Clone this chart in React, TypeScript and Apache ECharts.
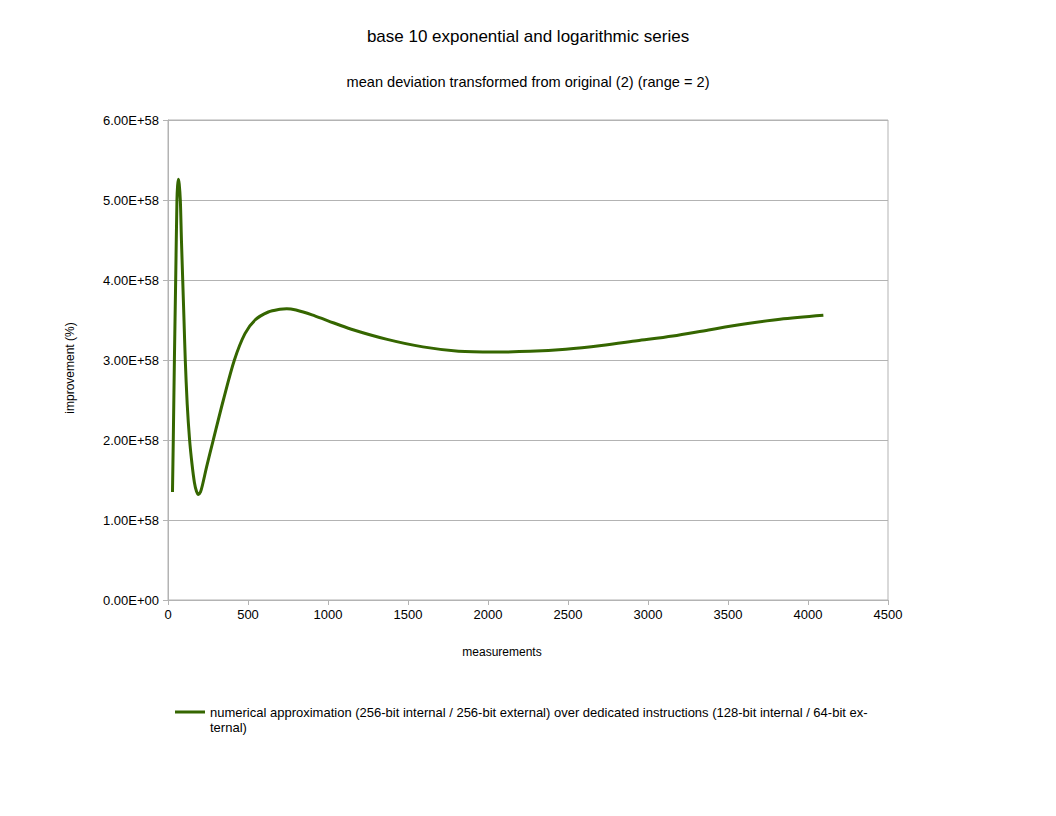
import React, { useEffect, useRef } from "react";
import * as echarts from "echarts";

const titleText = "base 10 exponential and logarithmic series";
const subtitleText = "mean deviation transformed from original (2) (range = 2)";
const xAxisName = "measurements";
const yAxisName = "improvement (%)";
const seriesName =
  "numerical approximation (256-bit internal / 256-bit external) over dedicated instructions (128-bit internal / 64-bit ex-\nternal)";

const measurements = [
  28, 33, 40, 48, 56, 60, 65, 70, 77, 84, 92, 100, 108, 120, 135, 150, 165, 178,
  190, 203, 217, 242, 283, 346, 415, 481, 544, 627, 700, 742, 800, 900, 1000,
  1146, 1370, 1593, 1816, 2039, 2263, 2486, 2709, 2932, 3155, 3379, 3602, 3825,
  4096,
];
const improvement = [
  1.35e58, 2.0e58, 3.0e58, 4.0e58, 5.0e58, 5.18e58, 5.26e58, 5.2e58, 5.0e58,
  4.5e58, 4.0e58, 3.5e58, 3.0e58, 2.45e58, 2.0e58, 1.7e58, 1.47e58, 1.36e58,
  1.32e58, 1.35e58, 1.45e58, 1.67e58, 2.0e58, 2.5e58, 3.0e58, 3.33e58, 3.5e58,
  3.6e58, 3.635e58, 3.642e58, 3.625e58, 3.565e58, 3.49e58, 3.385e58, 3.258e58,
  3.164e58, 3.11e58, 3.1e58, 3.108e58, 3.134e58, 3.18e58, 3.24e58, 3.3e58,
  3.376e58, 3.449e58, 3.51e58, 3.56e58,
];

const xMin = 0;
const xMax = 4500;
const xStep = 500;
const yMin = 0;
const yMax = 6e58;
const yStep = 1e58;

const FONT = "'Liberation Sans', Arial, sans-serif";
const GRAY = "#b3b3b3";
const LINE = "#356600";
const LEGEND_ICON = "path://M0,0H0.05V0.05H0Z M0,5.5H30V8.5H0Z M29.95,29.95H30V30H29.95Z";

export default function App() {
  const ref = useRef<HTMLDivElement>(null);
  useEffect(() => {
    if (!ref.current) return;
    const chart = echarts.init(ref.current, null, { renderer: "svg" });
    const data = measurements.map((m, i) => [m, improvement[i]]);
    chart.setOption({
      animation: false,
      backgroundColor: "#ffffff",
      textStyle: { fontFamily: FONT },
      title: [
        {
          text: titleText,
          left: "center",
          top: 23,
          textStyle: { fontFamily: FONT, fontSize: 17, fontWeight: "normal", color: "#000" },
        },
        {
          text: subtitleText,
          left: "center",
          top: 69,
          textStyle: { fontFamily: FONT, fontSize: 14.6, fontWeight: "normal", color: "#000" },
        },
      ],
      grid: {
        left: 168,
        top: 120,
        right: 168,
        bottom: 216,
        show: true,
        borderColor: GRAY,
        borderWidth: 1,
        containLabel: false,
      },
      xAxis: {
        type: "value",
        min: xMin,
        max: xMax,
        interval: xStep,
        name: xAxisName,
        nameLocation: "middle",
        nameGap: 46,
        nameTextStyle: { fontFamily: FONT, fontSize: 12, color: "#000", padding: [0, 52, 0, 0] },
        axisLine: { show: true, lineStyle: { color: GRAY } },
        axisTick: { show: true, length: 5, lineStyle: { color: GRAY } },
        axisLabel: {
          fontFamily: FONT,
          fontSize: 13,
          color: "#000",
          margin: 8,
          formatter: (v: number) => String(v),
        },
        splitLine: { show: false },
      },
      yAxis: {
        type: "value",
        min: yMin,
        max: yMax,
        interval: yStep,
        name: yAxisName,
        nameLocation: "middle",
        nameGap: 92,
        nameRotate: 90,
        nameTextStyle: { fontFamily: FONT, fontSize: 12, color: "#000", padding: [0, 16, 0, 0] },
        axisLine: { show: true, lineStyle: { color: GRAY } },
        axisTick: { show: true, length: 5, lineStyle: { color: GRAY } },
        axisLabel: {
          fontFamily: FONT,
          fontSize: 13,
          color: "#000",
          margin: 9,
          formatter: (v: number) => {
            if (v === 0) return "0.00E+00";
            return v.toExponential(2).toUpperCase();
          },
        },
        splitLine: { show: true, lineStyle: { color: GRAY, width: 1 } },
      },
      legend: {
        left: 170,
        top: 700,
        itemWidth: 30,
        itemHeight: 30,
        itemGap: 10,
        textStyle: { fontFamily: FONT, fontSize: 13, color: "#000", lineHeight: 15 },
        data: [{ name: seriesName, icon: LEGEND_ICON }],
      },
      series: [
        {
          type: "line",
          name: seriesName,
          data,
          smooth: 0.3,
          showSymbol: false,
          symbol: "none",
          lineStyle: { color: LINE, width: 3 },
          itemStyle: { color: LINE },
        },
      ],
    });
    return () => chart.dispose();
  }, []);
  return <div ref={ref} style={{ width: 1056, height: 816, margin: -8 }} />;
}
